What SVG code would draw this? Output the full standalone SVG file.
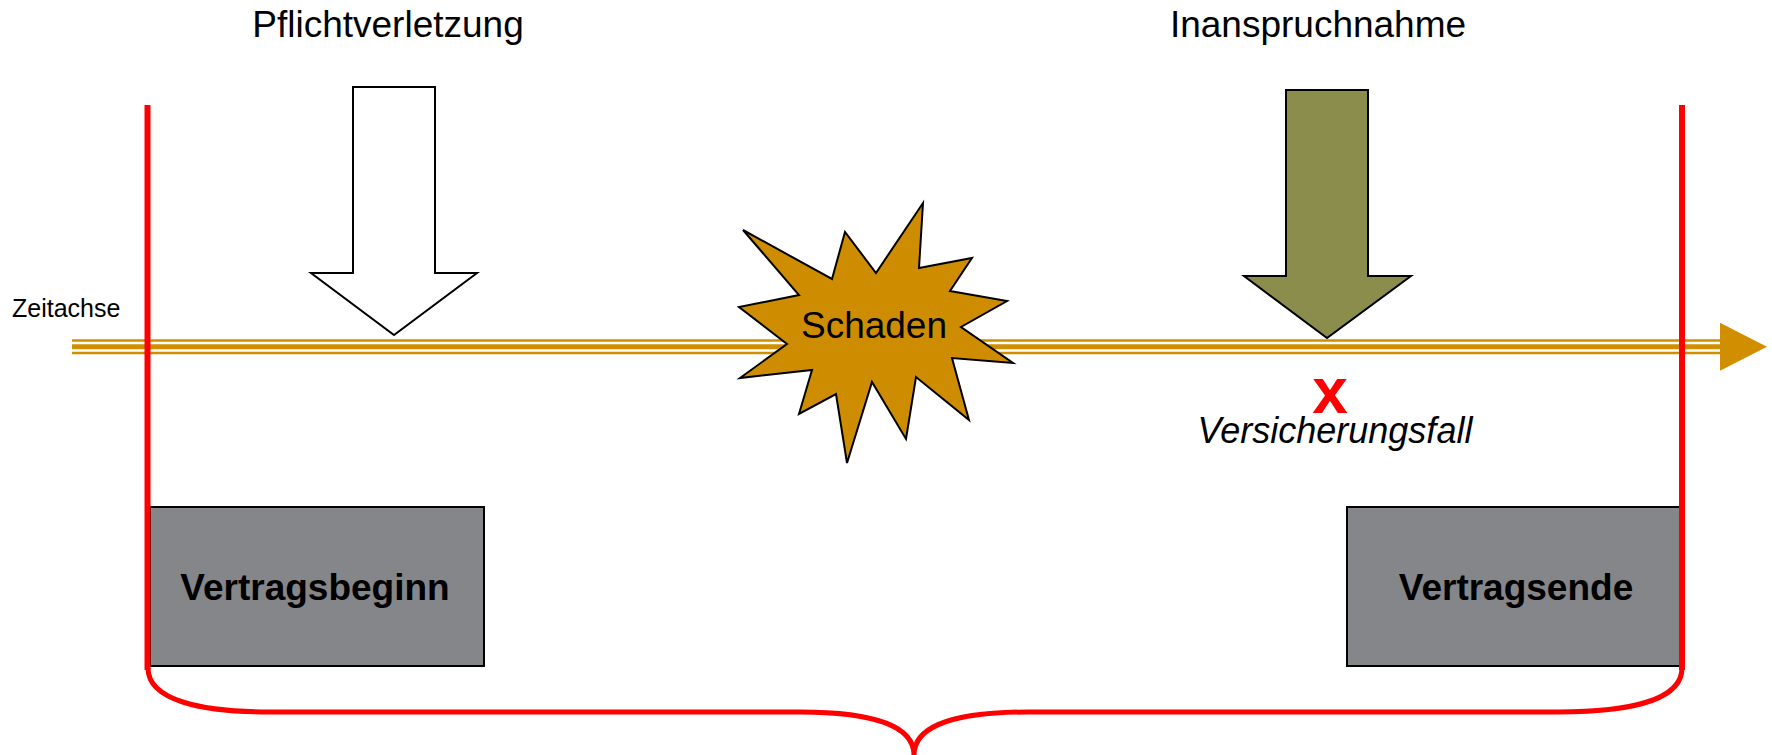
<svg xmlns="http://www.w3.org/2000/svg" width="1772" height="755" viewBox="0 0 1772 755">
<style>
text{font-family:"Liberation Sans",Arial,sans-serif;fill:#000}
.lbl{font-size:37px}
.box{fill:#85868A;stroke:#000;stroke-width:2}
.boxt{font-size:37px;font-weight:bold}
.red{stroke:#FF0000;fill:none}
.axis{stroke:#D18F00;fill:none}
.arr{stroke:#000;stroke-width:2;stroke-linejoin:miter}
</style>
<rect width="1772" height="755" fill="#fff"/>
<g id="connectors">
<g id="zeitachse-axis">
<line class="axis" x1="72" y1="340.5" x2="1722" y2="340.5" stroke-width="2.5"/>
<line class="axis" x1="72" y1="346.7" x2="1722" y2="346.7" stroke-width="5"/>
<line class="axis" x1="72" y1="352.9" x2="1722" y2="352.9" stroke-width="2.5"/>
<polygon points="1720,322.7 1767,346.7 1720,370.7" fill="#D18F00"/>
</g>
</g>
<g id="zeitachse-label"><text x="12" y="317" font-size="25">Zeitachse</text></g>
<g id="vertragsbeginn">
<rect class="box" x="150" y="507" width="334" height="159"/>
<text class="boxt" x="315" y="600" text-anchor="middle">Vertragsbeginn</text>
</g>
<g id="vertragsende">
<rect class="box" x="1347" y="507" width="335" height="159"/>
<text class="boxt" x="1516" y="600" text-anchor="middle">Vertragsende</text>
</g>
<g id="vertragslaufzeit">
<line class="red" x1="147.5" y1="105" x2="147.5" y2="670" stroke-width="6"/>
<line class="red" x1="1682" y1="105" x2="1682" y2="670" stroke-width="6"/>
<path class="red" stroke-width="5" d="M148,668 C148,700 200,712 270,712 L800,712 C870,712 914,725 914,755 C914,725 958,712 1028,712 L1558,712 C1630,712 1682,700 1682,668"/>
</g>
<g id="pflichtverletzung">
<text class="lbl" x="388" y="37" text-anchor="middle">Pflichtverletzung</text>
<polygon class="arr" fill="#fff" points="353,87 435,87 435,273 477,273 394,335 311,273 353,273"/>
</g>
<g id="inanspruchnahme">
<text class="lbl" x="1318" y="37" text-anchor="middle">Inanspruchnahme</text>
<polygon class="arr" fill="#8A8D4B" points="1286,90 1368,90 1368,276 1411,276 1327,338 1244,276 1286,276"/>
</g>
<g id="schaden">
<polygon class="arr" fill="#CE8C00" points="923,203 919,268 972,258 950,291 1007,301 961,327 1013,363 952,358 969,420 916,377 906,439 872,382 847,463 836,394 799,414 812,370 740,378 787,344 739,307 799,295 743,230 832,279 845,232 876,273"/>
<text x="874" y="338" font-size="37" text-anchor="middle">Schaden</text>
</g>
<g id="versicherungsfall">
<text x="1330" y="413" font-size="64" font-weight="bold" text-anchor="middle" style="fill:#FF0000">x</text>
<text x="1335" y="443" font-size="36" font-style="italic" text-anchor="middle">Versicherungsfall</text>
</g>
</svg>
